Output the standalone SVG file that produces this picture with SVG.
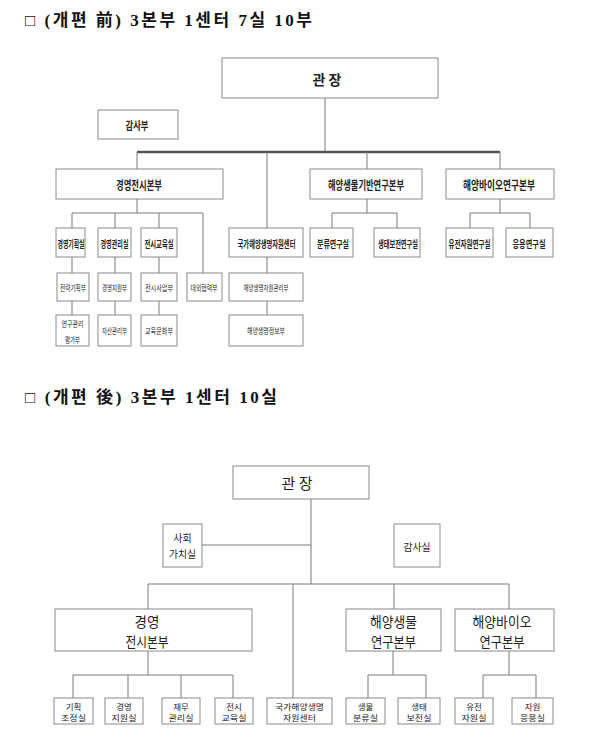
<svg xmlns="http://www.w3.org/2000/svg" width="594" height="754" viewBox="0 0 594 754">
<style>
.box{fill:#fff;stroke:#8a8a8a;stroke-width:1}
.ln{stroke:#7a7a7a;stroke-width:1;fill:none}
.bus{stroke:#555;stroke-width:2.5;fill:none}
text{font-family:"Noto Sans CJK KR","Noto Sans",sans-serif;fill:#222;text-anchor:middle;dominant-baseline:central}
.ttl{font-family:"Liberation Serif","Noto Sans CJK KR",serif;font-weight:bold;font-size:17px;text-anchor:start;fill:#111}
.b{font-weight:bold}
.f14{font-size:13.5px}.f12{font-size:12px}.f11{font-size:11px}.f10{font-size:10px}.f8{font-size:8px}.f9{font-size:8.5px}
</style>
<rect width="594" height="754" fill="#fff"/>

<text class="ttl" x="25" y="20" textLength="287" lengthAdjust="spacing">□ (개편 前) 3본부 1센터 7실 10부</text>
<text class="ttl" x="25" y="397" textLength="252" lengthAdjust="spacing">□ (개편 後) 3본부 1센터 10실</text>

<g id="connectors-before">
<path class="ln" d="M325 98V152"/>
<path class="bus" d="M137 152H500"/>
<path class="ln" d="M137 152V169M267 152V228M367 152V169M500 152V169"/>
<path class="ln" d="M137 199V213M72 213H203M72 213V228M115 213V228M159 213V228M203 213V273"/>
<path class="ln" d="M367 199V213M332 213H397M332 213V228M397 213V228"/>
<path class="ln" d="M500 199V213M470 213H530M470 213V228M530 213V228"/>
<path class="ln" d="M72 257V273M72 301V315M115 257V273M115 301V315M159 257V273M159 301V315M267 257V273M267 301V315"/>
</g>

<g id="b-director"><rect class="box" x="222" y="58" width="216" height="40"/><text class="b" x="327" y="79" style="font-size:14px">관 장</text></g>
<g id="b-audit"><rect class="box" x="98" y="110" width="80" height="29"/><text class="b f11" x="137" y="125" textLength="23" lengthAdjust="spacingAndGlyphs">감사부</text></g>
<g id="b-mgmt-hq"><rect class="box" x="56" y="169" width="167" height="30"/><text class="b f12" x="139" y="184" textLength="46" lengthAdjust="spacingAndGlyphs">경영전시본부</text></g>
<g id="b-bio-hq"><rect class="box" x="310" y="169" width="112" height="30"/><text class="b f12" x="366" y="184" textLength="76" lengthAdjust="spacingAndGlyphs">해양생물기반연구본부</text></g>
<g id="b-biotech-hq"><rect class="box" x="446" y="169" width="108" height="30"/><text class="b f12" x="499" y="184" textLength="72" lengthAdjust="spacingAndGlyphs">해양바이오연구본부</text></g>

<g id="b-plan"><rect class="box" x="56" y="228" width="29" height="29"/><text class="b f10" x="71" y="243" textLength="27" lengthAdjust="spacingAndGlyphs">경영기획실</text></g>
<g id="b-admin"><rect class="box" x="98" y="228" width="33" height="29"/><text class="b f10" x="114.5" y="243" textLength="28" lengthAdjust="spacingAndGlyphs">경영관리실</text></g>
<g id="b-edu"><rect class="box" x="141" y="228" width="36" height="29"/><text class="b f10" x="159" y="243" textLength="29" lengthAdjust="spacingAndGlyphs">전시교육실</text></g>
<g id="b-center"><rect class="box" x="229" y="228" width="74" height="29"/><text class="b f10" transform="translate(266.5 243) scale(0.63 1)" x="0" y="0">국가해양생명자원센터</text></g>
<g id="b-class"><rect class="box" x="310" y="228" width="43" height="29"/><text class="b f10" x="333" y="243" textLength="32" lengthAdjust="spacingAndGlyphs">분류연구실</text></g>
<g id="b-eco"><rect class="box" x="374" y="228" width="46" height="29"/><text class="b f10" x="398" y="243" textLength="40" lengthAdjust="spacingAndGlyphs">생태보전연구실</text></g>
<g id="b-gene"><rect class="box" x="446" y="228" width="47" height="29"/><text class="b f10" x="469.5" y="243" textLength="42" lengthAdjust="spacingAndGlyphs">유전자원연구실</text></g>
<g id="b-apply"><rect class="box" x="506" y="228" width="47" height="29"/><text class="b f10" x="529" y="243" textLength="33" lengthAdjust="spacingAndGlyphs">응용연구실</text></g>

<g id="b-strategy"><rect class="box" x="57" y="273" width="32" height="28"/><text class="f8" x="73" y="287" textLength="26" lengthAdjust="spacingAndGlyphs">전략기획부</text></g>
<g id="b-support"><rect class="box" x="98" y="273" width="33" height="28"/><text class="f8" x="114.5" y="287" textLength="25" lengthAdjust="spacingAndGlyphs">경영지원부</text></g>
<g id="b-exhibit"><rect class="box" x="141" y="273" width="36" height="28"/><text class="f8" x="159" y="287" textLength="28" lengthAdjust="spacingAndGlyphs">전시사업부</text></g>
<g id="b-external"><rect class="box" x="187" y="273" width="35" height="28"/><text class="f8" x="204" y="287" textLength="27" lengthAdjust="spacingAndGlyphs">대외협력부</text></g>
<g id="b-resmgmt"><rect class="box" x="229" y="273" width="74" height="28"/><text class="f8" x="266" y="287" textLength="45" lengthAdjust="spacingAndGlyphs">해양생명자원관리부</text></g>

<g id="b-research-eval"><rect class="box" x="56" y="315" width="33" height="31"/><text class="f8" x="72.5" y="323.5" textLength="22" lengthAdjust="spacingAndGlyphs">연구관리</text><text class="f8" x="72.5" y="339" textLength="15" lengthAdjust="spacingAndGlyphs">평가부</text></g>
<g id="b-asset"><rect class="box" x="98" y="315" width="33" height="31"/><text class="f8" x="114.5" y="330.5" textLength="25" lengthAdjust="spacingAndGlyphs">자산관리부</text></g>
<g id="b-culture"><rect class="box" x="141" y="315" width="36" height="31"/><text class="f8" x="159" y="330.5" textLength="28" lengthAdjust="spacingAndGlyphs">교육문화부</text></g>
<g id="b-info"><rect class="box" x="229" y="315" width="74" height="31"/><text class="f8" x="266" y="330.5" textLength="38" lengthAdjust="spacingAndGlyphs">해양생명정보부</text></g>

<g id="connectors-after">
<path class="ln" d="M311 499V584M202 545H311"/>
<path class="ln" d="M148 584H509M148 584V609M293 584V698M394 584V609M509 584V609"/>
<path class="ln" d="M148 651V675M73 675H233M73 675V698M128 675V698M181 675V698M233 675V698"/>
<path class="ln" d="M393 651V675M368 675H426M368 675V698M426 675V698"/>
<path class="ln" d="M509 651V675M483 675H536M483 675V698M536 675V698"/>
</g>

<g id="a-director"><rect class="box" x="233" y="466" width="136" height="33"/><text x="297" y="482.5" style="font-size:15px">관 장</text></g>
<g id="a-social"><rect class="box" x="163" y="524" width="39" height="43"/><text class="f10" x="182.5" y="537.5">사회</text><text class="f10" x="182.5" y="553" textLength="27" lengthAdjust="spacingAndGlyphs">가치실</text></g>
<g id="a-audit"><rect class="box" x="394" y="524" width="46" height="43"/><text class="f10" x="417" y="546" textLength="27" lengthAdjust="spacingAndGlyphs">감사실</text></g>

<g id="a-mgmt-hq"><rect class="box" x="55" y="609" width="197" height="42"/><text class="f14" x="147" y="621">경영</text><text class="f14" x="147" y="640.5" textLength="43" lengthAdjust="spacingAndGlyphs">전시본부</text></g>
<g id="a-bio-hq"><rect class="box" x="346" y="609" width="95" height="42"/><text class="f14" x="393.5" y="621" textLength="47" lengthAdjust="spacingAndGlyphs">해양생물</text><text class="f14" x="393.5" y="640.5" textLength="45" lengthAdjust="spacingAndGlyphs">연구본부</text></g>
<g id="a-biotech-hq"><rect class="box" x="455" y="609" width="99" height="42"/><text class="f14" x="502" y="621" textLength="59" lengthAdjust="spacingAndGlyphs">해양바이오</text><text class="f14" x="502" y="640.5" textLength="45" lengthAdjust="spacingAndGlyphs">연구본부</text></g>

<g id="a-plan"><rect class="box" x="54" y="698" width="39" height="26"/><text class="f9" x="73.5" y="705.5">기획</text><text class="f9" x="73.5" y="717" textLength="25" lengthAdjust="spacingAndGlyphs">조정실</text></g>
<g id="a-support"><rect class="box" x="105" y="698" width="38" height="26"/><text class="f9" x="124" y="705.5">경영</text><text class="f9" x="124" y="717" textLength="25" lengthAdjust="spacingAndGlyphs">지원실</text></g>
<g id="a-finance"><rect class="box" x="162" y="698" width="38" height="26"/><text class="f9" x="181" y="705.5">재무</text><text class="f9" x="181" y="717" textLength="25" lengthAdjust="spacingAndGlyphs">관리실</text></g>
<g id="a-edu"><rect class="box" x="215" y="698" width="38" height="26"/><text class="f9" x="234" y="705.5">전시</text><text class="f9" x="234" y="717" textLength="25" lengthAdjust="spacingAndGlyphs">교육실</text></g>
<g id="a-center"><rect class="box" x="267" y="698" width="65" height="26"/><text class="f9" x="299.5" y="705.5" textLength="49" lengthAdjust="spacingAndGlyphs">국가해양생명</text><text class="f9" x="299.5" y="717" textLength="33" lengthAdjust="spacingAndGlyphs">자원센터</text></g>
<g id="a-class"><rect class="box" x="346" y="698" width="39" height="26"/><text class="f9" x="365.5" y="705.5">생물</text><text class="f9" x="365.5" y="717" textLength="25" lengthAdjust="spacingAndGlyphs">분류실</text></g>
<g id="a-eco"><rect class="box" x="398" y="698" width="42" height="26"/><text class="f9" x="419" y="705.5">생태</text><text class="f9" x="419" y="717" textLength="25" lengthAdjust="spacingAndGlyphs">보전실</text></g>
<g id="a-gene"><rect class="box" x="455" y="698" width="38" height="26"/><text class="f9" x="474" y="705.5">유전</text><text class="f9" x="474" y="717" textLength="25" lengthAdjust="spacingAndGlyphs">자원실</text></g>
<g id="a-apply"><rect class="box" x="512" y="698" width="41" height="26"/><text class="f9" x="532.5" y="705.5">자원</text><text class="f9" x="532.5" y="717" textLength="25" lengthAdjust="spacingAndGlyphs">응용실</text></g>
</svg>
